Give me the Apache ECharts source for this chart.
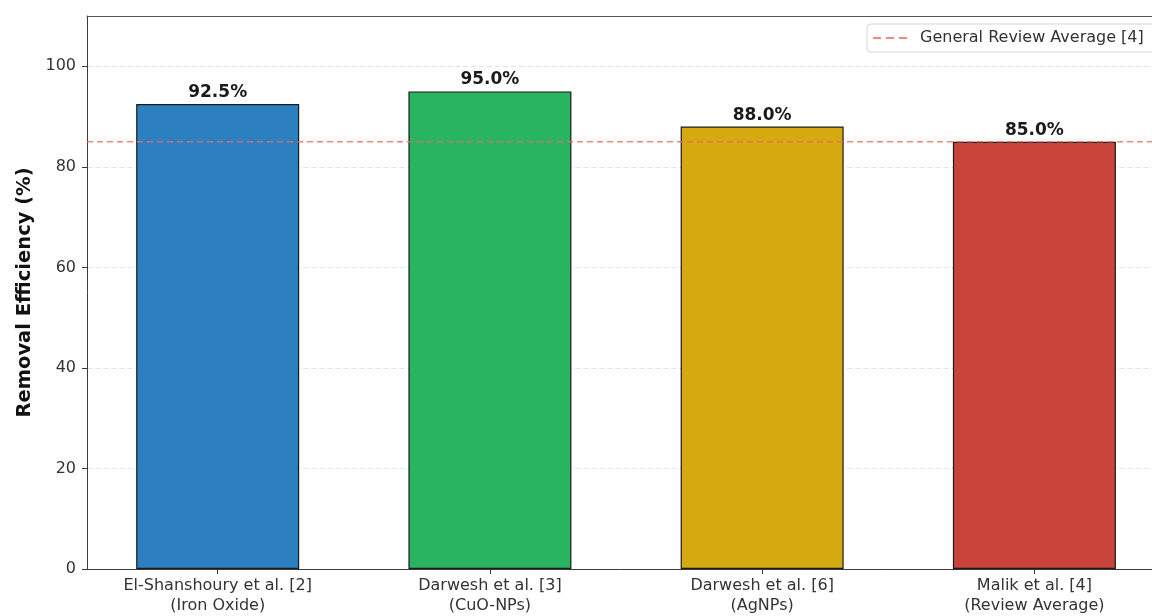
<!DOCTYPE html>
<html>
<head>
<meta charset="utf-8">
<script src="https://cdn.jsdelivr.net/npm/echarts@6/dist/echarts.min.js"></script>
<style>
  html, body { margin: 0; padding: 0; background: #fff; }
  #chart { width: 1152px; height: 616px; }
</style>
</head>
<body>
<div id="chart"></div>
<script>
// Study labels (two lines each) and their removal efficiencies
const categories = [
  'El-Shanshoury et al. [2]\n(Iron Oxide)',
  'Darwesh et al. [3]\n(CuO-NPs)',
  'Darwesh et al. [6]\n(AgNPs)',
  'Malik et al. [4]\n(Review Average)'
];
const efficiency = [92.5, 95.0, 88.0, 85.0];
const barColors = ['#2c80c0', '#29b462', '#d4aa10', '#c9443a'];
const reviewAverage = 85;
const reviewAverageName = 'General Review Average [4]';
const yTicks = [0, 20, 40, 60, 80, 100];

// bars sit at integer positions; the axis runs a little past the outer bars
const positions = categories.map((_, i) => i);
const xMin = -0.48, xMax = 3.432;
const FONT = 'DejaVu Sans';
const SPINE = '#3a3a3a';

const chart = echarts.init(document.getElementById('chart'));
chart.setOption({
  animation: false,
  backgroundColor: '#fff',
  textStyle: { fontFamily: FONT },
  grid: { left: 87, top: 16, right: 0, bottom: 47 },
  legend: {
    left: 867, top: 24,
    data: [{
      name: reviewAverageName,
      icon: 'path://M0,0h8v2h-8z M13,0h8v2h-8z M26,0h8v2h-8z'
    }],
    backgroundColor: '#fff',
    borderColor: '#d6d6d6', borderWidth: 1, borderRadius: 4,
    padding: [6, 14, 6, 6],
    itemWidth: 34, itemHeight: 12,
    textStyle: { fontFamily: FONT, fontSize: 16, color: '#333', padding: [0, 0, 0, 8] }
  },
  xAxis: [
    {
      type: 'value', min: xMin, max: xMax, position: 'bottom',
      axisLine: { show: true, onZero: false, lineStyle: { color: SPINE, width: 1 } },
      splitLine: { show: false },
      axisTick: { show: true, customValues: positions, length: 5, lineStyle: { color: SPINE } },
      axisLabel: {
        customValues: positions,
        formatter: v => categories[Math.round(v)] || '',
        fontFamily: FONT, fontSize: 16, color: '#333', lineHeight: 20, margin: 7
      }
    },
    {
      // top spine of the plot frame
      type: 'value', min: xMin, max: xMax, position: 'top',
      axisLine: { show: true, onZero: false, lineStyle: { color: '#555', width: 1.2 } },
      axisTick: { show: false }, axisLabel: { show: false }, splitLine: { show: false }
    }
  ],
  yAxis: {
    type: 'value', min: 0, max: 110,
    name: 'Removal Efficiency (%)',
    nameLocation: 'middle', nameGap: 52, nameRotate: 90,
    nameTextStyle: { fontFamily: FONT, fontSize: 19.5, fontWeight: 'bold', color: '#111' },
    axisLine: { show: true, onZero: false, lineStyle: { color: SPINE, width: 1 } },
    axisTick: { show: true, customValues: yTicks, length: 5, lineStyle: { color: SPINE } },
    axisLabel: { customValues: yTicks, fontFamily: FONT, fontSize: 16, color: '#333', margin: 11 },
    splitLine: { show: true, lineStyle: { color: '#e2e2e2', type: [5, 3], width: 1 } }
  },
  series: [
    {
      type: 'bar',
      xAxisIndex: 0,
      barWidth: 163,
      z: 2,
      data: efficiency.map((v, i) => ({
        value: [positions[i], v],
        itemStyle: { color: barColors[i], borderColor: '#1a1a1a', borderWidth: 1.2 }
      })),
      label: {
        show: true, position: 'top', distance: 3,
        formatter: p => p.value[1].toFixed(1) + '%',
        fontFamily: FONT, fontSize: 17, fontWeight: 'bold', color: '#1a1a1a'
      }
    },
    {
      name: reviewAverageName,
      type: 'line',
      xAxisIndex: 0,
      z: 5,
      symbol: 'none',
      silent: true,
      data: [[xMin, reviewAverage], [xMax, reviewAverage]],
      lineStyle: { color: '#ee6a5c', width: 1.5, type: [6, 4], opacity: 0.8 },
      itemStyle: { color: '#f08a80' }
    }
  ]
});
</script>
</body>
</html>
